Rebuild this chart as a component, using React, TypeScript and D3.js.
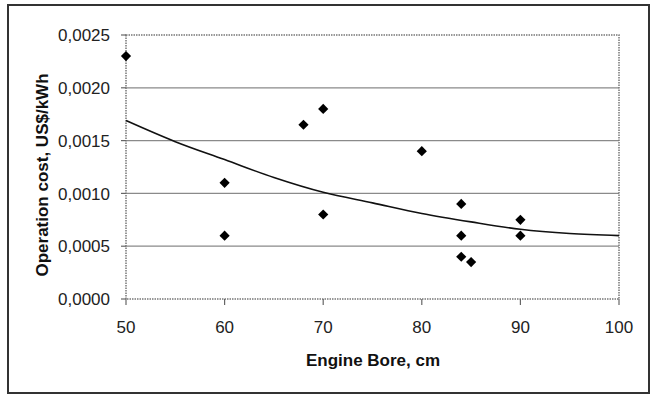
import React from "react";
import * as d3 from "d3";

const boreX = [50, 60, 60, 68, 70, 70, 80, 84, 84, 84, 85, 90, 90];
const costY = [0.0023, 0.0011, 0.0006, 0.00165, 0.0018, 0.0008, 0.0014, 0.0009, 0.0006, 0.0004, 0.00035, 0.00075, 0.0006];

const trendX = [50, 55, 60, 65, 70, 75, 80, 85, 90, 95, 100];
const trendY = [0.00169, 0.00149, 0.00132, 0.00115, 0.00101, 0.00091, 0.00081, 0.00073, 0.00066, 0.00062, 0.0006];

const xTicks = [50, 60, 70, 80, 90, 100];
const yTicks = [0, 0.0005, 0.001, 0.0015, 0.002, 0.0025];

const W = 656;
const H = 394;
const FONT = "'Liberation Sans', Arial, sans-serif";

export default function App() {
  const x = d3.scaleLinear().domain([50, 100]).range([126, 619]);
  const y = d3.scaleLinear().domain([0, 0.0025]).range([299, 35]);

  const line = d3
    .line<number>()
    .x((_, i) => x(trendX[i]))
    .y((d) => y(d))
    .curve(d3.curveMonotoneX);

  const diamond = d3.symbol().type(d3.symbolSquare).size(52)();
  const fmt = (v: number) => v.toFixed(4).replace(".", ",");

  const [x0, x1] = x.range();
  const [yb, yt] = y.range();

  return (
    <svg
      width={W}
      height={H}
      style={{ position: "absolute", left: 0, top: 0, background: "#fff" }}
      fontFamily={FONT}
    >
      <rect x={0} y={0} width={W} height={H} fill="#fff" />
      {/* outer frame */}
      <rect x={8} y={5} width={641} height={388} fill="none" stroke="#333" strokeWidth={2} />

      {/* gridlines */}
      {yTicks.slice(1, -1).map((t) => (
        <line key={"g" + t} x1={x0} x2={x1} y1={y(t)} y2={y(t)} stroke="#8a8a8a" strokeWidth={1.2} />
      ))}

      {/* plot border dotted */}
      <rect
        x={x0}
        y={yt}
        width={x1 - x0}
        height={yb - yt}
        fill="none"
        stroke="#777"
        strokeWidth={1.5}
        strokeDasharray="1.5,1"
      />

      {/* y ticks + labels */}
      {yTicks.map((t) => (
        <g key={"y" + t}>
          <line x1={x0 - 5} x2={x0} y1={y(t)} y2={y(t)} stroke="#666" strokeWidth={1.2} />
          <text x={110} y={y(t)} dy="0.36em" textAnchor="end" fontSize={17} fill="#222">
            {fmt(t)}
          </text>
        </g>
      ))}

      {/* x ticks + labels */}
      {xTicks.map((t) => (
        <g key={"x" + t}>
          <line x1={x(t)} x2={x(t)} y1={yb} y2={yb + 6} stroke="#666" strokeWidth={1.2} />
          <text x={x(t)} y={333} textAnchor="middle" fontSize={17} fill="#222">
            {t}
          </text>
        </g>
      ))}

      {/* trend line */}
      <path d={line(trendY) || ""} fill="none" stroke="#111" strokeWidth={1.6} />

      {/* points */}
      {boreX.map((bx, i) => (
        <path
          key={"p" + i}
          d={diamond || ""}
          transform={`translate(${x(bx)},${y(costY[i])}) rotate(45)`}
          fill="#000"
        />
      ))}

      {/* axis titles */}
      <text x={373} y={366} textAnchor="middle" fontSize={17} fontWeight="bold" fill="#111">
        Engine Bore, cm
      </text>
      <text
        transform={`translate(48,175) rotate(-90)`}
        textAnchor="middle"
        fontSize={17}
        fontWeight="bold"
        fill="#111"
      >
        Operation cost, US$/kWh
      </text>
    </svg>
  );
}
